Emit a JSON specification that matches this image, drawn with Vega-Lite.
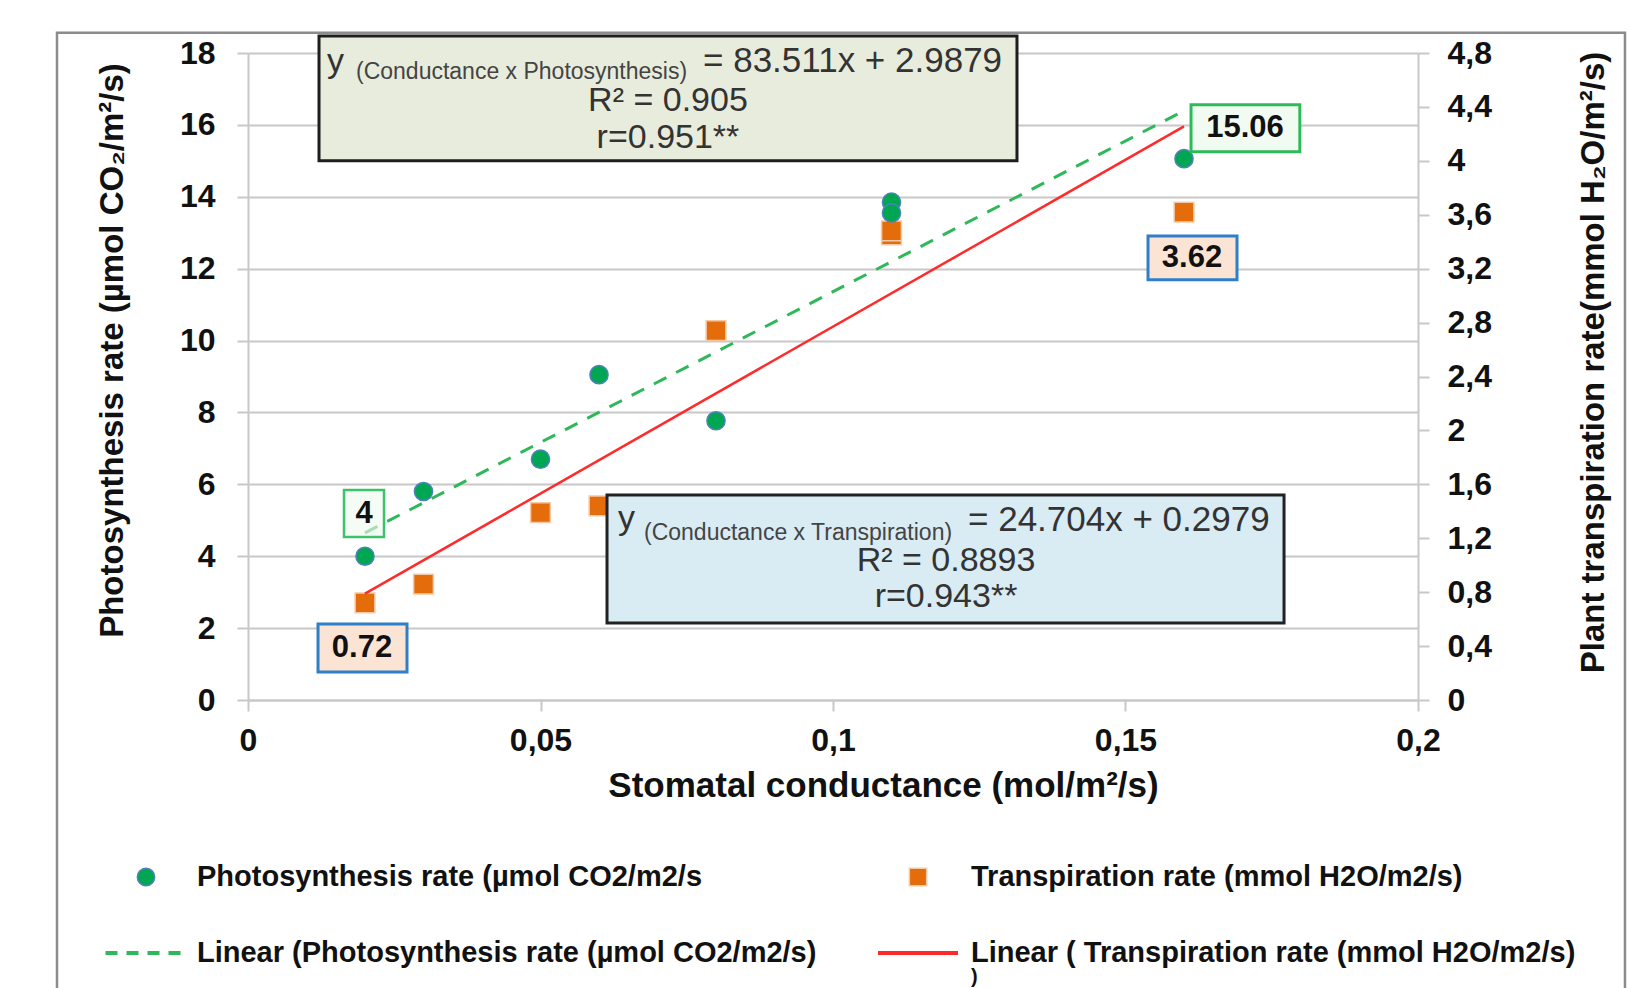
{
  "$schema": "https://vega.github.io/schema/vega-lite/v6.json",
  "width": 1170,
  "height": 647,
  "autosize": {"type": "none"},
  "padding": {"left": 248, "top": 53, "right": 210, "bottom": 288},
  "background": "white",
  "config": {
    "view": {"stroke": null},
    "font": "Liberation Sans",
    "legend": {"labelFont": "Liberation Sans", "labelFontSize": 29, "labelFontWeight": "bold", "labelColor": "#111111", "labelLimit": 900, "padding": 0, "symbolOpacity": 1}
  },
  "datasets": {
    "pts": [
      {"g": 0.02, "p": 4.0, "t": 0.72},
      {"g": 0.03, "p": 5.8, "t": 0.86},
      {"g": 0.05, "p": 6.7, "t": 1.39},
      {"g": 0.06, "p": 9.05, "t": 1.44},
      {"g": 0.08, "p": 7.77, "t": 2.74},
      {"g": 0.11, "p": 13.85, "t": 3.45},
      {"g": 0.11, "p": 13.55, "t": 3.48},
      {"g": 0.16, "p": 15.06, "t": 3.62}
    ]
  },
  "data": {"name": "pts"},
  "layer": [
    {
      "layer": [
        {
          "mark": {"type": "point", "shape": "square", "filled": true, "size": 390, "opacity": 1, "stroke": "#f6c9a6", "strokeWidth": 1.5},
          "encoding": {
            "x": {
              "field": "g", "type": "quantitative",
              "scale": {"domain": [0, 0.2], "nice": false, "zero": false},
              "axis": {
                "values": [0, 0.05, 0.1, 0.15, 0.2],
                "labelExpr": "replace(format(datum.value, '.2~f'), '.', ',')",
                "grid": false, "labelFlush": false, "labelOverlap": false,
                "domainColor": "#c8c8c8", "domainWidth": 2,
                "tickColor": "#c8c8c8", "tickWidth": 2, "tickSize": 11,
                "labelFontSize": 32, "labelFontWeight": "bold", "labelColor": "#111111", "labelPadding": 14,
                "title": "Stomatal conductance (mol/m²/s)",
                "titleFontSize": 35, "titleFontWeight": "bold", "titleColor": "#111111",
                "titlePadding": 12, "titleX": 635
              }
            },
            "y": {
              "field": "t", "type": "quantitative",
              "scale": {"domain": [0, 4.8], "nice": false, "zero": false},
              "axis": {
                "orient": "right",
                "values": [0, 0.4, 0.8, 1.2, 1.6, 2, 2.4, 2.8, 3.2, 3.6, 4, 4.4, 4.8],
                "labelExpr": "replace(format(datum.value, '.1~f'), '.', ',')",
                "grid": false, "labelOverlap": false,
                "domainColor": "#c8c8c8", "domainWidth": 2,
                "tickColor": "#c8c8c8", "tickWidth": 2, "tickSize": 11,
                "labelFontSize": 32, "labelFontWeight": "bold", "labelColor": "#111111", "labelPadding": 18,
                "title": "Plant transpiration rate(mmol H₂O/m²/s)",
                "titleFontSize": 33, "titleFontWeight": "bold", "titleColor": "#111111",
                "titleAngle": 270, "titlePadding": 119, "titleY": 309
              }
            },
            "color": {
              "datum": "Transpiration rate (mmol H2O/m2/s)", "type": "nominal",
              "scale": {"range": ["#e46c0a"]},
              "legend": {
                "orient": "none", "legendX": 655.5, "legendY": 809.5, "title": null,
                "symbolType": "square", "symbolSize": 300,
                "symbolStrokeColor": "#f6c9a6", "symbolStrokeWidth": 1.5,
                "labelOffset": 38.5
              }
            }
          }
        },
        {
          "transform": [{"regression": "t", "on": "g"}],
          "mark": {"type": "line", "strokeWidth": 2.5},
          "encoding": {
            "x": {"field": "g", "type": "quantitative"},
            "y": {"field": "t", "type": "quantitative"},
            "color": {
              "datum": "Linear ( Transpiration rate (mmol H2O/m2/s)", "type": "nominal",
              "scale": {"range": ["#ff2b2b"]},
              "legend": {
                "orient": "none", "legendX": 628, "legendY": 858, "title": null,
                "symbolType": "stroke", "symbolSize": 6400, "symbolStrokeWidth": 4,
                "labelOffset": 11
              }
            }
          }
        }
      ],
      "resolve": {"scale": {"color": "independent"}, "legend": {"color": "independent"}}
    },
    {
      "layer": [
        {
          "data": {"values": [{}]},
          "mark": {"type": "rect", "fill": "transparent", "stroke": "#8c8c8c", "strokeWidth": 2.5},
          "encoding": {
            "x": {"datum": -0.03265, "type": "quantitative"}, "x2": {"datum": 0.23538},
            "y": {"datum": 18.56, "type": "quantitative"}, "y2": {"datum": -8.5}
          }
        },
        {
          "mark": {"type": "point", "shape": "circle", "filled": true, "size": 330, "opacity": 1, "stroke": "#4f81bd", "strokeWidth": 1.5},
          "encoding": {
            "x": {"field": "g", "type": "quantitative"},
            "y": {
              "field": "p", "type": "quantitative",
              "scale": {"domain": [0, 18], "nice": false, "zero": false},
              "axis": {
                "values": [0, 2, 4, 6, 8, 10, 12, 14, 16, 18],
                "grid": true, "gridColor": "#c8c8c8", "gridWidth": 2, "labelOverlap": false,
                "domainColor": "#c8c8c8", "domainWidth": 2,
                "tickColor": "#c8c8c8", "tickWidth": 2, "tickSize": 11,
                "labelFontSize": 32, "labelFontWeight": "bold", "labelColor": "#111111", "labelPadding": 22,
                "title": "Photosynthesis rate (µmol CO₂/m²/s)",
                "titleFontSize": 33, "titleFontWeight": "bold", "titleColor": "#111111",
                "titlePadding": 50, "titleY": 297
              }
            },
            "color": {
              "datum": "Photosynthesis rate (µmol CO2/m2/s", "type": "nominal",
              "scale": {"range": ["#00a651"]},
              "legend": {
                "orient": "none", "legendX": -116.5, "legendY": 809.5, "title": null,
                "symbolType": "circle", "symbolSize": 300,
                "symbolStrokeColor": "#4f81bd", "symbolStrokeWidth": 1.5,
                "labelOffset": 36.5
              }
            }
          }
        },
        {
          "transform": [{"regression": "p", "on": "g"}],
          "mark": {"type": "line", "strokeWidth": 3, "strokeDash": [14, 11]},
          "encoding": {
            "x": {"field": "g", "type": "quantitative"},
            "y": {"field": "p", "type": "quantitative"},
            "color": {
              "datum": "Linear (Photosynthesis rate (µmol CO2/m2/s)", "type": "nominal",
              "scale": {"range": ["#2fb85a"]},
              "legend": {
                "orient": "none", "legendX": -144.5, "legendY": 858, "title": null,
                "symbolType": "stroke", "symbolSize": 6400, "symbolStrokeWidth": 4,
                "symbolDash": [12, 9], "labelOffset": 9.5
              }
            }
          }
        },
        {
          "data": {"values": [{}]},
          "mark": {"type": "rect", "fill": "#e8ecdc", "stroke": "#1e1e1e", "strokeWidth": 3},
          "encoding": {
            "x": {"datum": 0.01214, "type": "quantitative"}, "x2": {"datum": 0.13145},
            "y": {"datum": 18.475, "type": "quantitative"}, "y2": {"datum": 15.0}
          }
        },
        {
          "data": {"values": [{}]},
          "mark": {"type": "text", "text": "y", "fontSize": 34, "align": "left", "baseline": "alphabetic", "color": "#333333"},
          "encoding": {"x": {"datum": 0.0135, "type": "quantitative"}, "y": {"datum": 17.47, "type": "quantitative"}}
        },
        {
          "data": {"values": [{}]},
          "mark": {"type": "text", "text": "(Conductance  x  Photosynthesis)", "fontSize": 23, "align": "left", "baseline": "alphabetic", "color": "#444444"},
          "encoding": {"x": {"datum": 0.01846, "type": "quantitative"}, "y": {"datum": 17.28, "type": "quantitative"}}
        },
        {
          "data": {"values": [{}]},
          "mark": {"type": "text", "text": "= 83.511x + 2.9879", "fontSize": 35, "align": "left", "baseline": "alphabetic", "color": "#333333"},
          "encoding": {"x": {"datum": 0.07778, "type": "quantitative"}, "y": {"datum": 17.47, "type": "quantitative"}}
        },
        {
          "data": {"values": [{}]},
          "mark": {"type": "text", "text": ["R² = 0.905", "r=0.951**"], "fontSize": 34, "lineHeight": 37, "align": "center", "baseline": "alphabetic", "color": "#333333"},
          "encoding": {"x": {"datum": 0.07179, "type": "quantitative"}, "y": {"datum": 16.39, "type": "quantitative"}}
        },
        {
          "data": {"values": [{}]},
          "mark": {"type": "rect", "fill": "#d9ebf3", "stroke": "#222222", "strokeWidth": 3},
          "encoding": {
            "x": {"datum": 0.06137, "type": "quantitative"}, "x2": {"datum": 0.1771},
            "y": {"datum": 5.7, "type": "quantitative"}, "y2": {"datum": 2.14}
          }
        },
        {
          "data": {"values": [{}]},
          "mark": {"type": "text", "text": "y", "fontSize": 34, "align": "left", "baseline": "alphabetic", "color": "#333333"},
          "encoding": {"x": {"datum": 0.06325, "type": "quantitative"}, "y": {"datum": 4.76, "type": "quantitative"}}
        },
        {
          "data": {"values": [{}]},
          "mark": {"type": "text", "text": "(Conductance  x  Transpiration)", "fontSize": 23, "align": "left", "baseline": "alphabetic", "color": "#444444"},
          "encoding": {"x": {"datum": 0.06769, "type": "quantitative"}, "y": {"datum": 4.45, "type": "quantitative"}}
        },
        {
          "data": {"values": [{}]},
          "mark": {"type": "text", "text": "= 24.704x + 0.2979", "fontSize": 35, "align": "left", "baseline": "alphabetic", "color": "#333333"},
          "encoding": {"x": {"datum": 0.12308, "type": "quantitative"}, "y": {"datum": 4.69, "type": "quantitative"}}
        },
        {
          "data": {"values": [{}]},
          "mark": {"type": "text", "text": ["R² = 0.8893", "r=0.943**"], "fontSize": 34, "lineHeight": 36, "align": "center", "baseline": "alphabetic", "color": "#333333"},
          "encoding": {"x": {"datum": 0.11932, "type": "quantitative"}, "y": {"datum": 3.59, "type": "quantitative"}}
        },
        {
          "data": {"values": [{}]},
          "mark": {"type": "rect", "fill": "#eefaef", "fillOpacity": 0.6, "stroke": "#3cc36a", "strokeWidth": 2.5},
          "encoding": {
            "x": {"datum": 0.01641, "type": "quantitative"}, "x2": {"datum": 0.02325},
            "y": {"datum": 5.84, "type": "quantitative"}, "y2": {"datum": 4.535}
          }
        },
        {
          "data": {"values": [{}]},
          "mark": {"type": "text", "text": "4", "fontSize": 31, "fontWeight": "bold", "align": "center", "baseline": "middle", "color": "#111111"},
          "encoding": {"x": {"datum": 0.01983, "type": "quantitative"}, "y": {"datum": 5.175, "type": "quantitative"}}
        },
        {
          "data": {"values": [{}]},
          "mark": {"type": "rect", "fill": "#fce4d4", "stroke": "#2f7fc8", "strokeWidth": 3},
          "encoding": {
            "x": {"datum": 0.01197, "type": "quantitative"}, "x2": {"datum": 0.02718},
            "y": {"datum": 2.115, "type": "quantitative"}, "y2": {"datum": 0.78}
          }
        },
        {
          "data": {"values": [{}]},
          "mark": {"type": "text", "text": "0.72", "fontSize": 31, "fontWeight": "bold", "align": "center", "baseline": "middle", "color": "#111111"},
          "encoding": {"x": {"datum": 0.01949, "type": "quantitative"}, "y": {"datum": 1.447, "type": "quantitative"}}
        },
        {
          "data": {"values": [{}]},
          "mark": {"type": "rect", "fill": "#f2fbf2", "stroke": "#2dbb5a", "strokeWidth": 3},
          "encoding": {
            "x": {"datum": 0.1612, "type": "quantitative"}, "x2": {"datum": 0.1798},
            "y": {"datum": 16.56, "type": "quantitative"}, "y2": {"datum": 15.25}
          }
        },
        {
          "data": {"values": [{}]},
          "mark": {"type": "text", "text": "15.06", "fontSize": 31, "fontWeight": "bold", "align": "center", "baseline": "middle", "color": "#111111"},
          "encoding": {"x": {"datum": 0.17043, "type": "quantitative"}, "y": {"datum": 15.92, "type": "quantitative"}}
        },
        {
          "data": {"values": [{}]},
          "mark": {"type": "rect", "fill": "#fce4d4", "stroke": "#2f7fc8", "strokeWidth": 3},
          "encoding": {
            "x": {"datum": 0.15385, "type": "quantitative"}, "x2": {"datum": 0.16906},
            "y": {"datum": 12.91, "type": "quantitative"}, "y2": {"datum": 11.69}
          }
        },
        {
          "data": {"values": [{}]},
          "mark": {"type": "text", "text": "3.62", "fontSize": 31, "fontWeight": "bold", "align": "center", "baseline": "middle", "color": "#111111"},
          "encoding": {"x": {"datum": 0.16137, "type": "quantitative"}, "y": {"datum": 12.3, "type": "quantitative"}}
        },
        {
          "data": {"values": [{}]},
          "mark": {"type": "text", "text": ")", "fontSize": 20, "fontWeight": "bold", "align": "left", "baseline": "middle", "color": "#111111"},
          "encoding": {"x": {"datum": 0.1236, "type": "quantitative"}, "y": {"datum": -7.72, "type": "quantitative"}}
        }
      ],
      "resolve": {"scale": {"color": "independent"}, "legend": {"color": "independent"}}
    }
  ],
  "resolve": {"scale": {"y": "independent", "color": "independent"}, "legend": {"color": "independent"}}
}
